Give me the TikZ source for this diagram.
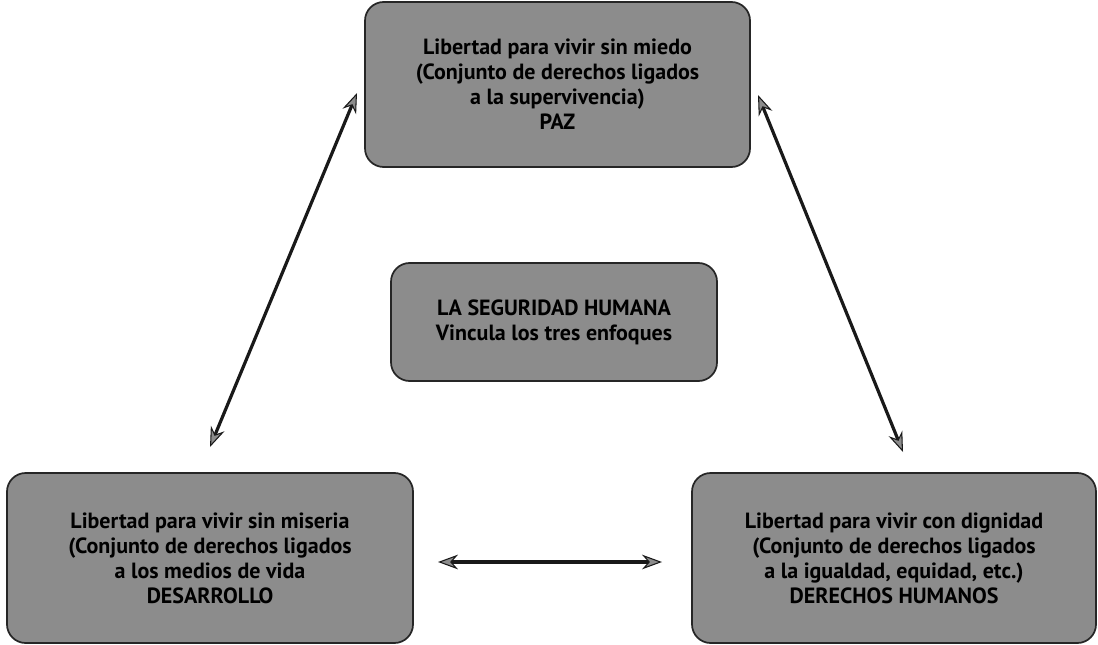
\documentclass[tikz,border=0pt]{standalone}
\usepackage{fontspec}
\setmainfont{PT Sans}
\usetikzlibrary{arrows.meta}
\tikzset{
  box/.style={draw=black!85, line width=1.3pt, fill=black!45, rounded corners=14pt,
    align=center, font=\bfseries\fontsize{16.5}{18.8}\selectfont, text=black, inner sep=0pt},
  tip/.style={Stealth[length=15pt,width=11pt,line width=0.8pt,fill=black!45]},
  link/.style={line width=2.4pt, draw=black!90, {Stealth[length=15pt,width=11pt,line width=0.8pt,fill=black!45]}-{Stealth[length=15pt,width=11pt,line width=0.8pt,fill=black!45]}}
}
\begin{document}
\begin{tikzpicture}[x=0.75pt,y=-0.75pt]
\useasboundingbox (0,0) rectangle (1098,645);
\node[box, minimum width=385*0.75pt, minimum height=165*0.75pt] (paz) at (557.5,84.5)
 {Libertad para vivir sin miedo\\(Conjunto de derechos ligados\\a la supervivencia)\\PAZ};
\node[box, minimum width=326*0.75pt, minimum height=118*0.75pt] (seg) at (554,322)
 {LA SEGURIDAD HUMANA\\Vincula los tres enfoques};
\node[box, minimum width=406*0.75pt, minimum height=170*0.75pt] (des) at (210,558)
 {Libertad para vivir sin miseria\\(Conjunto de derechos ligados\\a los medios de vida\\DESARROLLO};
\node[box, minimum width=404*0.75pt, minimum height=170*0.75pt] (dh) at (894,558)
 {Libertad para vivir con dignidad\\(Conjunto de derechos ligados\\a la igualdad, equidad, etc.)\\DERECHOS HUMANOS};
\coordinate (a1) at (357,93);
\coordinate (a2) at (210,447);
\coordinate (b1) at (758,95);
\coordinate (b2) at (903,452);
\coordinate (c1) at (438,562);
\coordinate (c2) at (662,562);
\draw[link] (a1) -- (a2);
\draw[link] (b1) -- (b2);
\draw[link] (c1) -- (c2);
\end{tikzpicture}
\end{document}
